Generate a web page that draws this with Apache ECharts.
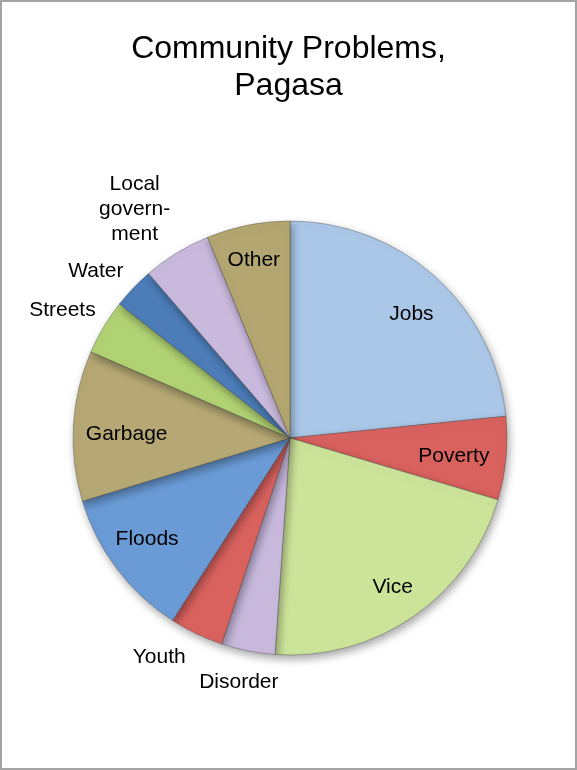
<!DOCTYPE html>
<html>
<head>
<meta charset="utf-8">
<title>Community Problems, Pagasa</title>
<script src="https://cdn.jsdelivr.net/npm/echarts@6/dist/echarts.min.js"></script>
<style>
  html, body { margin: 0; padding: 0; background: #ffffff; }
  #chart { width: 577px; height: 770px; }
</style>
</head>
<body>
<div id="chart"></div>
<script>
// Share of residents naming each problem (percent), clockwise from 12 o'clock
const categories = ['Jobs', 'Poverty', 'Vice', 'Disorder', 'Youth', 'Floods',
                    'Garbage', 'Streets', 'Water', 'Local government', 'Other'];
const shares = [23.4, 6.2, 21.5, 4.0, 4.0, 11.2, 11.2, 4.1, 3.1, 5.1, 6.2];
// Text shown for each slice (long names are broken over lines)
const labelTexts = ['Jobs', 'Poverty', 'Vice', 'Disorder', 'Youth', 'Floods',
                    'Garbage', 'Streets', 'Water', 'Local\ngovern-\nment', 'Other'];
// Small slices carry their names outside the pie
const outsideNames = ['Disorder', 'Youth', 'Streets', 'Water', 'Local government'];

const colors = ['#abc7e7', '#d9625f', '#cce39a', '#c7b8dc', '#d9625f', '#6a9bd6',
                '#b6a874', '#b1d273', '#4c7db9', '#c9b9dd', '#b4a670'];

// Fine nudges for label placement, in pixels
const nudges = {
  'Jobs': [3, 7], 'Poverty': [-12, 2], 'Vice': [2, 4], 'Floods': [-2, -5],
  'Garbage': [13, 6], 'Other': [-2, -5],
  'Youth': [-19, -15], 'Disorder': [-1, -10], 'Streets': [-5, 5],
  'Water': [-7, 12], 'Local government': [-20, -8]
};

const R = 217;
const center = [290, 438];
const font = '"Liberation Sans", Arial, Helvetica, sans-serif';

const chart = echarts.init(document.getElementById('chart'), null, { renderer: 'canvas' });

const pieData = categories.map((name, i) => ({
  name: name,
  value: shares[i],
  itemStyle: { color: colors[i] }
}));

function labelSeries(radius, showSet) {
  return {
    type: 'pie',
    silent: true,
    center: center,
    radius: radius,
    startAngle: 90,
    avoidLabelOverlap: false,
    itemStyle: { color: 'rgba(0,0,0,0)', borderWidth: 0 },
    emphasis: { disabled: true },
    labelLine: { show: false },
    label: {
      show: true,
      position: 'inside',
      color: '#000000',
      fontFamily: font,
      fontSize: 21,
      lineHeight: 25,
      formatter: p => labelTexts[p.dataIndex]
    },
    labelLayout: function (p) {
      const n = nudges[categories[p.dataIndex]] || [0, 0];
      return { dx: n[0], dy: n[1] };
    },
    data: categories.map((name, i) => ({
      name: name,
      value: shares[i],
      label: { show: showSet(name) }
    }))
  };
}

chart.setOption({
  animation: false,
  backgroundColor: '#ffffff',
  title: {
    text: 'Community Problems,\nPagasa',
    left: 'center',
    top: 26,
    textStyle: {
      fontFamily: font,
      fontSize: 32,
      fontWeight: 'normal',
      color: '#000000',
      lineHeight: 37
    }
  },
  graphic: [{
    type: 'rect',
    silent: true,
    shape: { x: 1, y: 1, width: 575, height: 768 },
    style: { fill: 'none', stroke: '#a3a3a3', lineWidth: 2 }
  }],
  series: [
    {
      type: 'pie',
      center: center,
      radius: [0, R],
      startAngle: 90,
      label: { show: false },
      labelLine: { show: false },
      itemStyle: {
        borderColor: 'rgba(60,60,60,0.35)',
        borderWidth: 1,
        shadowBlur: 8,
        shadowOffsetX: 2,
        shadowOffsetY: 4,
        shadowColor: 'rgba(0,0,0,0.35)'
      },
      data: pieData
    },
    labelSeries([R * 0.6, R], n => outsideNames.indexOf(n) < 0),
    labelSeries([R, R * 1.36], n => outsideNames.indexOf(n) >= 0)
  ]
});
</script>
</body>
</html>
